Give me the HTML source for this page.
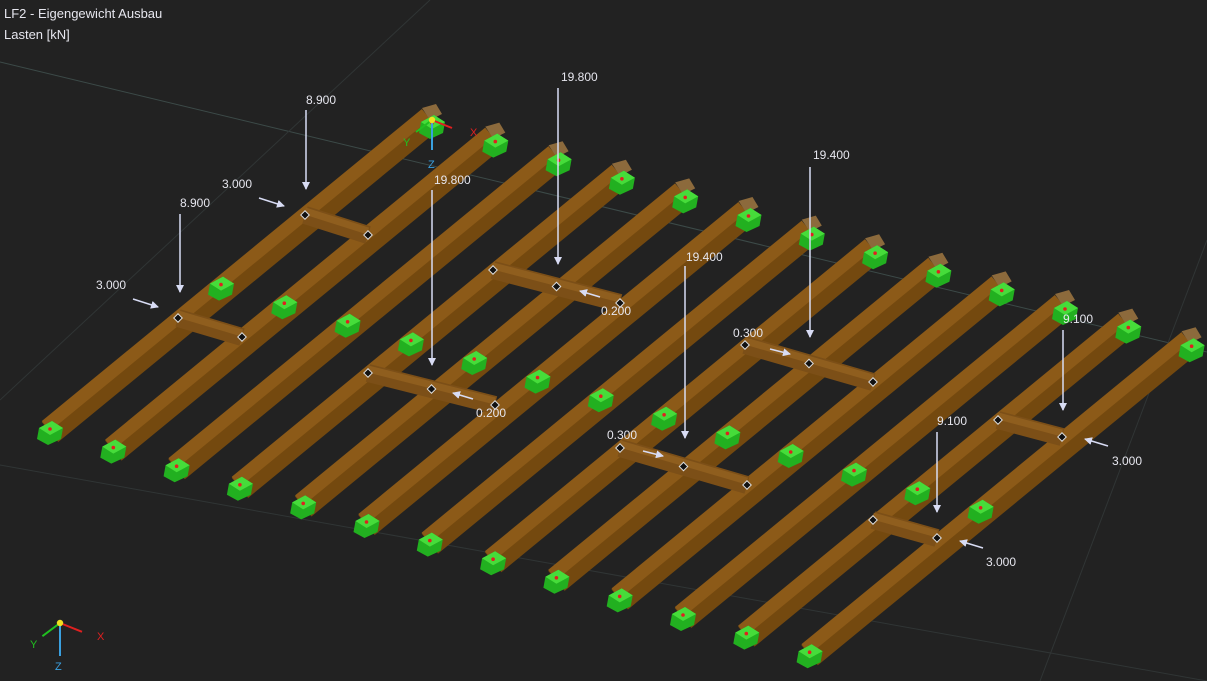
<!DOCTYPE html>
<html><head><meta charset="utf-8"><style>
html,body{margin:0;padding:0;background:#222222;}
svg{display:block;}
text{font-family:"Liberation Sans",sans-serif;font-size:12px;fill:#e6e6ee;}
</style></head><body>
<svg id="s" width="1207" height="681" viewBox="0 0 1207 681" xmlns="http://www.w3.org/2000/svg">
<defs>
<marker id="ah" markerWidth="8" markerHeight="8" refX="7" refY="4" orient="auto" markerUnits="userSpaceOnUse"><path d="M0,0 L8,4 L0,8 z" fill="#d8dcf4"/></marker>
</defs>
<line x1="0" y1="62" x2="1207" y2="352" stroke="#3c4a48" stroke-width="1"/>
<line x1="430" y1="0" x2="0" y2="400" stroke="#303535" stroke-width="1"/>
<line x1="0" y1="465" x2="1207" y2="681" stroke="#303535" stroke-width="1"/>
<line x1="1207" y1="240" x2="1040" y2="681" stroke="#303535" stroke-width="1"/>
<g id="beams"></g>
<g id="cross"></g>
<g id="sup"></g>
<g stroke="#d8dcf4" stroke-width="1.5" marker-end="url(#ah)">
<line x1="306" y1="110" x2="306" y2="189"/>
<line x1="180" y1="214" x2="180" y2="292"/>
<line x1="558" y1="88" x2="558" y2="264"/>
<line x1="432" y1="190" x2="432" y2="365"/>
<line x1="810" y1="167" x2="810" y2="337"/>
<line x1="685" y1="266" x2="685" y2="438"/>
<line x1="1063" y1="330" x2="1063" y2="410"/>
<line x1="937" y1="432" x2="937" y2="512"/>
<line x1="259" y1="198" x2="284" y2="206"/>
<line x1="133" y1="299" x2="158" y2="307"/>
<line x1="600" y1="297" x2="580" y2="291"/>
<line x1="473" y1="399" x2="453" y2="393"/>
<line x1="770" y1="349" x2="790" y2="354"/>
<line x1="643" y1="451" x2="663" y2="456"/>
<line x1="1108" y1="446" x2="1085" y2="439"/>
<line x1="983" y1="548" x2="960" y2="541"/>
</g>
<text x="306" y="104">8.900</text>
<text x="180" y="207">8.900</text>
<text x="222" y="188">3.000</text>
<text x="96" y="289">3.000</text>
<text x="561" y="81">19.800</text>
<text x="434" y="184">19.800</text>
<text x="601" y="315">0.200</text>
<text x="476" y="417">0.200</text>
<text x="813" y="159">19.400</text>
<text x="686" y="261">19.400</text>
<text x="733" y="337">0.300</text>
<text x="607" y="439">0.300</text>
<text x="1063" y="323">9.100</text>
<text x="937" y="425">9.100</text>
<text x="1112" y="465">3.000</text>
<text x="986" y="566">3.000</text>
<text x="4" y="18" style="font-size:13px">LF2 - Eigengewicht Ausbau</text>
<text x="4" y="39" style="font-size:13px">Lasten [kN]</text>
<g id="ax"></g>
</svg>
<script>
var NS="http://www.w3.org/2000/svg";
function el(p,t,a){var e=document.createElementNS(NS,t);for(var k in a)e.setAttribute(k,a[k]);p.appendChild(e);return e;}
var B=document.getElementById("beams"),C=document.getElementById("cross"),S=document.getElementById("sup"),A=document.getElementById("ax");
var dx=380,dy=-312,sx=63.3,sy=18.6;
function sup(x,y){el(S,"polygon",{points:(x-11)+","+(y-4)+" "+(x+2)+","+(y-11)+" "+(x+13)+","+(y-4)+" "+(x+11)+","+(y+7)+" "+(x-2)+","+(y+13)+" "+(x-13)+","+(y+7),fill:"#22b020"});
 el(S,"polygon",{points:(x-11)+","+(y-4)+" "+(x+2)+","+(y-11)+" "+(x+13)+","+(y-4)+" "+(x)+","+(y+3),fill:"#46dc3a"});
 el(S,"circle",{cx:x,cy:y-3,r:1.8,fill:"#e02020"});}
for(var i=0;i<13;i++){
 var x0=50+sx*i,y0=432+sy*i,x1=x0+dx,y1=y0+dy;
 el(B,"line",{x1:x0,y1:y0,x2:x1,y2:y1,stroke:"#74490f","stroke-width":26});
 el(B,"line",{x1:x0-4,y1:y0-6,x2:x1-4,y2:y1-6,stroke:"#8c5a18","stroke-width":13});
 el(B,"polygon",{points:(x1-8)+","+(y1-12)+" "+(x1+6)+","+(y1-16)+" "+(x1+12)+","+(y1-6)+" "+(x1)+","+(y1)+"",fill:"#8c6a3c"});
}
for(var i=0;i<13;i++){
 var x0=50+sx*i,y0=432+sy*i;
 sup(x0,y0);
 sup(x0+dx*0.45,y0+dy*0.45-4);
 sup(x0+dx+2,y0+dy+6);
}
var cr=[[305,215,368,235],[178,318,242,337],[368,373,495,405],[493,270,620,303],[745,345,873,382],[620,448,747,485],[998,420,1062,437],[873,520,937,538]];
cr.forEach(function(c){
 el(C,"line",{x1:c[0],y1:c[1],x2:c[2],y2:c[3],stroke:"#7c4f17","stroke-width":18});
 el(C,"line",{x1:c[0],y1:c[1]-4,x2:c[2],y2:c[3]-4,stroke:"#8f5e1e","stroke-width":7});
 var n=(c[2]-c[0]>100)?3:2;
 for(var k=0;k<n;k++){var t=n==2?k:k/2;var x=c[0]+(c[2]-c[0])*t,y=c[1]+(c[3]-c[1])*t;
  el(C,"rect",{x:x-3,y:y-3,width:6,height:6,fill:"#111",stroke:"#ddd","stroke-width":1,transform:"rotate(45 "+x+" "+y+")"});}
});
function ax(x,y,s){
 el(A,"line",{x1:x,y1:y,x2:x+20*s,y2:y+8*s,stroke:"#e02020","stroke-width":2});
 el(A,"line",{x1:x,y1:y,x2:x-16*s,y2:y+12*s,stroke:"#20c020","stroke-width":2});
 el(A,"line",{x1:x,y1:y,x2:x,y2:y+30*s,stroke:"#3aa0e0","stroke-width":2});
 el(A,"circle",{cx:x,cy:y,r:3.2,fill:"#f0e020"});
}
ax(432,120,1);ax(60,623,1.1);
</script>
<svg width="0" height="0"></svg>
<div style="position:absolute;left:0;top:0;width:1207px;height:681px;pointer-events:none">
<svg width="1207" height="681" style="position:absolute;left:0;top:0">
<text x="470" y="136" style="fill:#e02020;font-size:11px;font-family:'Liberation Sans',sans-serif">X</text>
<text x="403" y="146" style="fill:#20c020;font-size:11px;font-family:'Liberation Sans',sans-serif">Y</text>
<text x="428" y="168" style="fill:#3aa0e0;font-size:11px;font-family:'Liberation Sans',sans-serif">Z</text>
<text x="97" y="640" style="fill:#e02020;font-size:11px;font-family:'Liberation Sans',sans-serif">X</text>
<text x="30" y="648" style="fill:#20c020;font-size:11px;font-family:'Liberation Sans',sans-serif">Y</text>
<text x="55" y="670" style="fill:#3aa0e0;font-size:11px;font-family:'Liberation Sans',sans-serif">Z</text>
</svg></div>
</body></html>
